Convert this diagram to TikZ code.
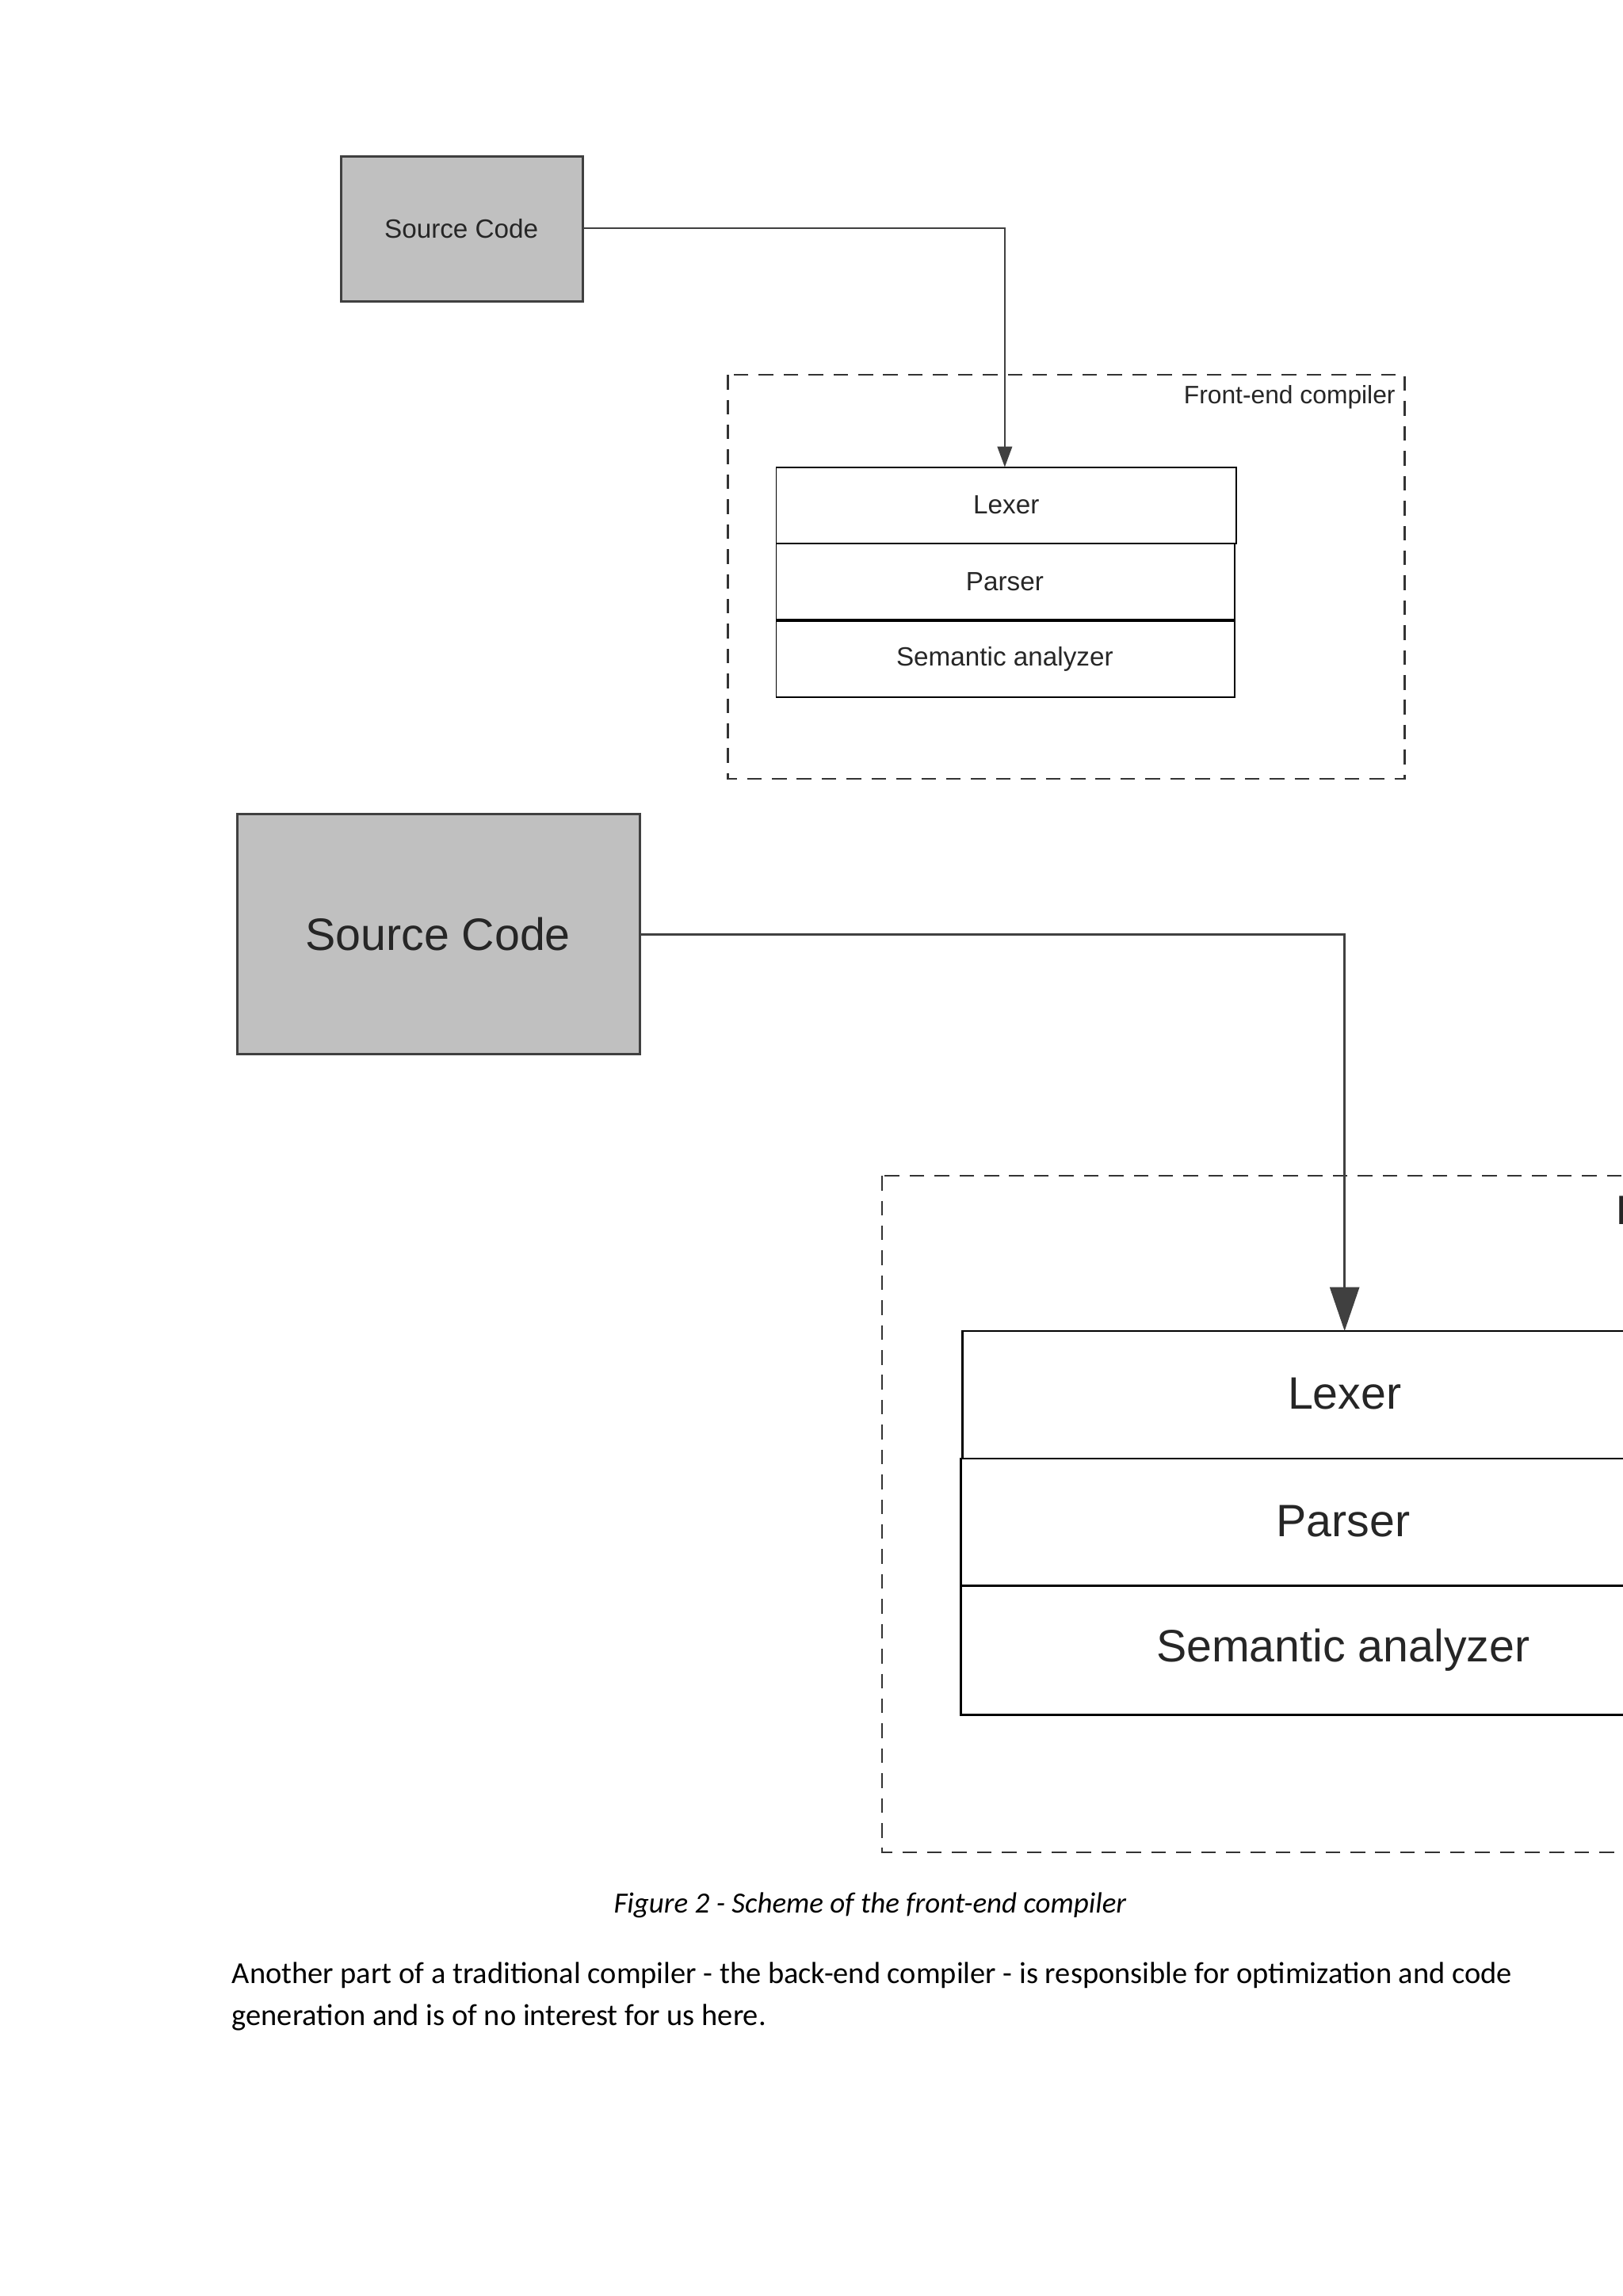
\documentclass[tikz,border=0pt]{standalone}
\usepackage{fontspec}
\setmainfont{Carlito}
\newfontfamily\arial{Liberation Sans}
\usetikzlibrary{arrows.meta}
\definecolor{boxgray}{HTML}{C0C0C0}
\definecolor{edge}{HTML}{404040}
\begin{document}
\begin{tikzpicture}[x=0.5pt,y=-0.5pt,
  src/.style={draw=edge,line width=0.7pt,fill=boxgray},
  layer/.style={draw=black,line width=0.5pt},
  frame/.style={draw=black!80,line width=0.6pt,dash pattern=on 5pt off 3.5pt},
  lbl/.style={font=\arial, text=black!85}]
\clip (0,0) rectangle (1108,1568);
\fill[white] (0,0) rectangle (1108,1568);
% small diagram
\draw[src] (233,107) rectangle (398,206);
\node[lbl,font=\arial\fontsize{9}{10}\selectfont] (s1) at (315,156) {Source Code};
\draw[frame] (497,256) rectangle (959,532);
\node[lbl,font=\arial\fontsize{8.6}{10}\selectfont,anchor=east,inner sep=1pt] (f1) at (955,271) {Front-end compiler};
\draw[layer] (530,319) rectangle (844,371);
\draw[layer] (530,371) rectangle (843,423);
\draw[layer] (530,424) rectangle (843,476);
\node[lbl,font=\arial\fontsize{9}{10}\selectfont] (l1) at (687,345) {Lexer};
\node[lbl,font=\arial\fontsize{9}{10}\selectfont] (p1) at (686,397) {Parser};
\node[lbl,font=\arial\fontsize{9}{10}\selectfont] (a1) at (686,450) {Semantic analyzer};
\coordinate (t1) at (686,319);
\draw[edge,line width=0.6pt,-{Triangle[length=7pt,width=5pt]}] (398,156) -| (t1);
% large diagram
\draw[src] (162,556) rectangle (437,720);
\node[lbl,font=\arial\fontsize{15.5}{18}\selectfont] (s2) at (299,638) {Source Code};
\draw[frame] (602,803) rectangle (1200,1265);
\node[lbl,font=\arial\fontsize{14}{16}\selectfont,anchor=west,inner sep=0pt] (f2) at (1103,829) {Front-end compiler};
\draw[layer,line width=0.7pt] (657,909) rectangle (1200,996);
\draw[layer,line width=0.7pt] (656,996) rectangle (1200,1083);
\draw[layer,line width=0.7pt] (656,1083) rectangle (1200,1171);
\node[lbl,font=\arial\fontsize{15.5}{18}\selectfont] (l2) at (918,952) {Lexer};
\node[lbl,font=\arial\fontsize{15.5}{18}\selectfont] (p2) at (917,1039) {Parser};
\node[lbl,font=\arial\fontsize{15.5}{18}\selectfont] (a2) at (917,1127) {Semantic analyzer};
\coordinate (t2) at (918,909);
\draw[edge,line width=0.8pt,-{Triangle[length=15pt,width=10pt]}] (437,638) -| (t2);
% caption and text
\node[font=\itshape\fontsize{10}{11}\selectfont] (cap) at (594,1301) {Figure 2 - Scheme of the front-end compiler};
\node[anchor=west,inner sep=0pt,font=\fontsize{10.4}{12}\selectfont] (t1a) at (158,1349) {Another part of a traditional compiler - the back-end compiler - is responsible for optimization and code};
\node[anchor=west,inner sep=0pt,font=\fontsize{10.4}{12}\selectfont] (t1b) at (158,1378) {generation and is of no interest for us here.};
\end{tikzpicture}
\end{document}
